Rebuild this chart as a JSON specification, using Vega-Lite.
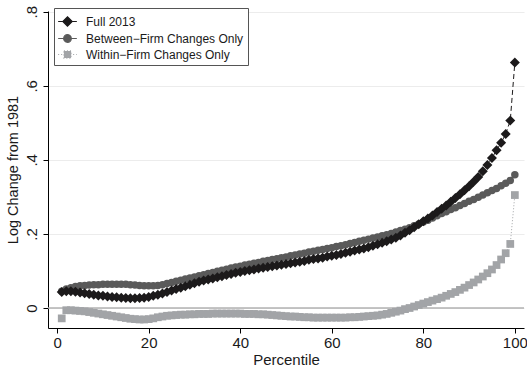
{
  "$schema": "https://vega.github.io/schema/vega-lite/v6.json",
  "width": 476,
  "height": 317,
  "autosize": {"type": "none"},
  "padding": {"left": 48, "top": 11, "right": 3, "bottom": 42},
  "background": "white",
  "config": {
    "font": "Liberation Sans",
    "view": {"stroke": null},
    "axis": {"domainColor": "#000000", "tickColor": "#000000", "tickSize": 5, "labelColor": "#1a1a1a", "titleColor": "#1a1a1a", "titleFontWeight": "normal", "labelFontSize": 15, "titleFontSize": 15, "labelFont": "Liberation Sans", "titleFont": "Liberation Sans"},
    "legend": {"title": null, "orient": "none", "legendX": 6, "legendY": -3, "fillColor": "white", "strokeColor": "#555555", "padding": 4, "symbolSize": 289, "rowPadding": 0, "labelOffset": 9, "labelFontSize": 12, "labelColor": "#1a1a1a", "labelFont": "Liberation Sans", "labelLimit": 300, "symbolOpacity": 1, "symbolStrokeWidth": 1.2}
  },
  "datasets": {
    "zero": [{"y": 0}],
    "series": [
      {"p":1,"s":"Within−Firm Changes Only","v":-0.028},{"p":2,"s":"Within−Firm Changes Only","v":-0.006},{"p":3,"s":"Within−Firm Changes Only","v":-0.006},{"p":4,"s":"Within−Firm Changes Only","v":-0.007},{"p":5,"s":"Within−Firm Changes Only","v":-0.008},{"p":6,"s":"Within−Firm Changes Only","v":-0.009},{"p":7,"s":"Within−Firm Changes Only","v":-0.011},{"p":8,"s":"Within−Firm Changes Only","v":-0.013},{"p":9,"s":"Within−Firm Changes Only","v":-0.015},{"p":10,"s":"Within−Firm Changes Only","v":-0.017},
      {"p":11,"s":"Within−Firm Changes Only","v":-0.019},{"p":12,"s":"Within−Firm Changes Only","v":-0.021},{"p":13,"s":"Within−Firm Changes Only","v":-0.023},{"p":14,"s":"Within−Firm Changes Only","v":-0.025},{"p":15,"s":"Within−Firm Changes Only","v":-0.027},{"p":16,"s":"Within−Firm Changes Only","v":-0.029},{"p":17,"s":"Within−Firm Changes Only","v":-0.030},{"p":18,"s":"Within−Firm Changes Only","v":-0.031},{"p":19,"s":"Within−Firm Changes Only","v":-0.031},{"p":20,"s":"Within−Firm Changes Only","v":-0.030},
      {"p":21,"s":"Within−Firm Changes Only","v":-0.028},{"p":22,"s":"Within−Firm Changes Only","v":-0.025},{"p":23,"s":"Within−Firm Changes Only","v":-0.023},{"p":24,"s":"Within−Firm Changes Only","v":-0.021},{"p":25,"s":"Within−Firm Changes Only","v":-0.020},{"p":26,"s":"Within−Firm Changes Only","v":-0.019},{"p":27,"s":"Within−Firm Changes Only","v":-0.018},{"p":28,"s":"Within−Firm Changes Only","v":-0.018},{"p":29,"s":"Within−Firm Changes Only","v":-0.017},{"p":30,"s":"Within−Firm Changes Only","v":-0.017},
      {"p":31,"s":"Within−Firm Changes Only","v":-0.016},{"p":32,"s":"Within−Firm Changes Only","v":-0.016},{"p":33,"s":"Within−Firm Changes Only","v":-0.016},{"p":34,"s":"Within−Firm Changes Only","v":-0.015},{"p":35,"s":"Within−Firm Changes Only","v":-0.015},{"p":36,"s":"Within−Firm Changes Only","v":-0.015},{"p":37,"s":"Within−Firm Changes Only","v":-0.015},{"p":38,"s":"Within−Firm Changes Only","v":-0.015},{"p":39,"s":"Within−Firm Changes Only","v":-0.015},{"p":40,"s":"Within−Firm Changes Only","v":-0.015},
      {"p":41,"s":"Within−Firm Changes Only","v":-0.016},{"p":42,"s":"Within−Firm Changes Only","v":-0.016},{"p":43,"s":"Within−Firm Changes Only","v":-0.016},{"p":44,"s":"Within−Firm Changes Only","v":-0.017},{"p":45,"s":"Within−Firm Changes Only","v":-0.017},{"p":46,"s":"Within−Firm Changes Only","v":-0.018},{"p":47,"s":"Within−Firm Changes Only","v":-0.019},{"p":48,"s":"Within−Firm Changes Only","v":-0.020},{"p":49,"s":"Within−Firm Changes Only","v":-0.021},{"p":50,"s":"Within−Firm Changes Only","v":-0.022},
      {"p":51,"s":"Within−Firm Changes Only","v":-0.023},{"p":52,"s":"Within−Firm Changes Only","v":-0.023},{"p":53,"s":"Within−Firm Changes Only","v":-0.024},{"p":54,"s":"Within−Firm Changes Only","v":-0.025},{"p":55,"s":"Within−Firm Changes Only","v":-0.025},{"p":56,"s":"Within−Firm Changes Only","v":-0.026},{"p":57,"s":"Within−Firm Changes Only","v":-0.026},{"p":58,"s":"Within−Firm Changes Only","v":-0.026},{"p":59,"s":"Within−Firm Changes Only","v":-0.026},{"p":60,"s":"Within−Firm Changes Only","v":-0.026},
      {"p":61,"s":"Within−Firm Changes Only","v":-0.026},{"p":62,"s":"Within−Firm Changes Only","v":-0.026},{"p":63,"s":"Within−Firm Changes Only","v":-0.026},{"p":64,"s":"Within−Firm Changes Only","v":-0.025},{"p":65,"s":"Within−Firm Changes Only","v":-0.025},{"p":66,"s":"Within−Firm Changes Only","v":-0.024},{"p":67,"s":"Within−Firm Changes Only","v":-0.023},{"p":68,"s":"Within−Firm Changes Only","v":-0.022},{"p":69,"s":"Within−Firm Changes Only","v":-0.021},{"p":70,"s":"Within−Firm Changes Only","v":-0.020},
      {"p":71,"s":"Within−Firm Changes Only","v":-0.018},{"p":72,"s":"Within−Firm Changes Only","v":-0.016},{"p":73,"s":"Within−Firm Changes Only","v":-0.013},{"p":74,"s":"Within−Firm Changes Only","v":-0.010},{"p":75,"s":"Within−Firm Changes Only","v":-0.007},{"p":76,"s":"Within−Firm Changes Only","v":-0.003},{"p":77,"s":"Within−Firm Changes Only","v":0.000},{"p":78,"s":"Within−Firm Changes Only","v":0.004},{"p":79,"s":"Within−Firm Changes Only","v":0.008},{"p":80,"s":"Within−Firm Changes Only","v":0.012},
      {"p":81,"s":"Within−Firm Changes Only","v":0.016},{"p":82,"s":"Within−Firm Changes Only","v":0.020},{"p":83,"s":"Within−Firm Changes Only","v":0.024},{"p":84,"s":"Within−Firm Changes Only","v":0.028},{"p":85,"s":"Within−Firm Changes Only","v":0.033},{"p":86,"s":"Within−Firm Changes Only","v":0.038},{"p":87,"s":"Within−Firm Changes Only","v":0.043},{"p":88,"s":"Within−Firm Changes Only","v":0.049},{"p":89,"s":"Within−Firm Changes Only","v":0.055},{"p":90,"s":"Within−Firm Changes Only","v":0.062},
      {"p":91,"s":"Within−Firm Changes Only","v":0.069},{"p":92,"s":"Within−Firm Changes Only","v":0.077},{"p":93,"s":"Within−Firm Changes Only","v":0.085},{"p":94,"s":"Within−Firm Changes Only","v":0.094},{"p":95,"s":"Within−Firm Changes Only","v":0.104},{"p":96,"s":"Within−Firm Changes Only","v":0.116},{"p":97,"s":"Within−Firm Changes Only","v":0.131},{"p":98,"s":"Within−Firm Changes Only","v":0.148},{"p":99,"s":"Within−Firm Changes Only","v":0.173},{"p":100,"s":"Within−Firm Changes Only","v":0.305},

      {"p":1,"s":"Between−Firm Changes Only","v":0.045},{"p":2,"s":"Between−Firm Changes Only","v":0.051},{"p":3,"s":"Between−Firm Changes Only","v":0.055},{"p":4,"s":"Between−Firm Changes Only","v":0.058},{"p":5,"s":"Between−Firm Changes Only","v":0.060},{"p":6,"s":"Between−Firm Changes Only","v":0.061},{"p":7,"s":"Between−Firm Changes Only","v":0.062},{"p":8,"s":"Between−Firm Changes Only","v":0.063},{"p":9,"s":"Between−Firm Changes Only","v":0.063},{"p":10,"s":"Between−Firm Changes Only","v":0.064},
      {"p":11,"s":"Between−Firm Changes Only","v":0.064},{"p":12,"s":"Between−Firm Changes Only","v":0.064},{"p":13,"s":"Between−Firm Changes Only","v":0.064},{"p":14,"s":"Between−Firm Changes Only","v":0.064},{"p":15,"s":"Between−Firm Changes Only","v":0.064},{"p":16,"s":"Between−Firm Changes Only","v":0.063},{"p":17,"s":"Between−Firm Changes Only","v":0.062},{"p":18,"s":"Between−Firm Changes Only","v":0.061},{"p":19,"s":"Between−Firm Changes Only","v":0.060},{"p":20,"s":"Between−Firm Changes Only","v":0.060},
      {"p":21,"s":"Between−Firm Changes Only","v":0.060},{"p":22,"s":"Between−Firm Changes Only","v":0.061},{"p":23,"s":"Between−Firm Changes Only","v":0.063},{"p":24,"s":"Between−Firm Changes Only","v":0.066},{"p":25,"s":"Between−Firm Changes Only","v":0.069},{"p":26,"s":"Between−Firm Changes Only","v":0.072},{"p":27,"s":"Between−Firm Changes Only","v":0.075},{"p":28,"s":"Between−Firm Changes Only","v":0.078},{"p":29,"s":"Between−Firm Changes Only","v":0.081},{"p":30,"s":"Between−Firm Changes Only","v":0.084},
      {"p":31,"s":"Between−Firm Changes Only","v":0.087},{"p":32,"s":"Between−Firm Changes Only","v":0.090},{"p":33,"s":"Between−Firm Changes Only","v":0.093},{"p":34,"s":"Between−Firm Changes Only","v":0.096},{"p":35,"s":"Between−Firm Changes Only","v":0.099},{"p":36,"s":"Between−Firm Changes Only","v":0.102},{"p":37,"s":"Between−Firm Changes Only","v":0.105},{"p":38,"s":"Between−Firm Changes Only","v":0.108},{"p":39,"s":"Between−Firm Changes Only","v":0.111},{"p":40,"s":"Between−Firm Changes Only","v":0.113},
      {"p":41,"s":"Between−Firm Changes Only","v":0.116},{"p":42,"s":"Between−Firm Changes Only","v":0.118},{"p":43,"s":"Between−Firm Changes Only","v":0.121},{"p":44,"s":"Between−Firm Changes Only","v":0.123},{"p":45,"s":"Between−Firm Changes Only","v":0.126},{"p":46,"s":"Between−Firm Changes Only","v":0.128},{"p":47,"s":"Between−Firm Changes Only","v":0.131},{"p":48,"s":"Between−Firm Changes Only","v":0.133},{"p":49,"s":"Between−Firm Changes Only","v":0.136},{"p":50,"s":"Between−Firm Changes Only","v":0.138},
      {"p":51,"s":"Between−Firm Changes Only","v":0.141},{"p":52,"s":"Between−Firm Changes Only","v":0.143},{"p":53,"s":"Between−Firm Changes Only","v":0.146},{"p":54,"s":"Between−Firm Changes Only","v":0.148},{"p":55,"s":"Between−Firm Changes Only","v":0.151},{"p":56,"s":"Between−Firm Changes Only","v":0.153},{"p":57,"s":"Between−Firm Changes Only","v":0.156},{"p":58,"s":"Between−Firm Changes Only","v":0.158},{"p":59,"s":"Between−Firm Changes Only","v":0.161},{"p":60,"s":"Between−Firm Changes Only","v":0.163},
      {"p":61,"s":"Between−Firm Changes Only","v":0.166},{"p":62,"s":"Between−Firm Changes Only","v":0.168},{"p":63,"s":"Between−Firm Changes Only","v":0.171},{"p":64,"s":"Between−Firm Changes Only","v":0.174},{"p":65,"s":"Between−Firm Changes Only","v":0.177},{"p":66,"s":"Between−Firm Changes Only","v":0.180},{"p":67,"s":"Between−Firm Changes Only","v":0.183},{"p":68,"s":"Between−Firm Changes Only","v":0.186},{"p":69,"s":"Between−Firm Changes Only","v":0.189},{"p":70,"s":"Between−Firm Changes Only","v":0.192},
      {"p":71,"s":"Between−Firm Changes Only","v":0.195},{"p":72,"s":"Between−Firm Changes Only","v":0.198},{"p":73,"s":"Between−Firm Changes Only","v":0.201},{"p":74,"s":"Between−Firm Changes Only","v":0.205},{"p":75,"s":"Between−Firm Changes Only","v":0.209},{"p":76,"s":"Between−Firm Changes Only","v":0.213},{"p":77,"s":"Between−Firm Changes Only","v":0.217},{"p":78,"s":"Between−Firm Changes Only","v":0.222},{"p":79,"s":"Between−Firm Changes Only","v":0.227},{"p":80,"s":"Between−Firm Changes Only","v":0.232},
      {"p":81,"s":"Between−Firm Changes Only","v":0.237},{"p":82,"s":"Between−Firm Changes Only","v":0.243},{"p":83,"s":"Between−Firm Changes Only","v":0.249},{"p":84,"s":"Between−Firm Changes Only","v":0.255},{"p":85,"s":"Between−Firm Changes Only","v":0.260},{"p":86,"s":"Between−Firm Changes Only","v":0.266},{"p":87,"s":"Between−Firm Changes Only","v":0.271},{"p":88,"s":"Between−Firm Changes Only","v":0.277},{"p":89,"s":"Between−Firm Changes Only","v":0.282},{"p":90,"s":"Between−Firm Changes Only","v":0.288},
      {"p":91,"s":"Between−Firm Changes Only","v":0.293},{"p":92,"s":"Between−Firm Changes Only","v":0.299},{"p":93,"s":"Between−Firm Changes Only","v":0.305},{"p":94,"s":"Between−Firm Changes Only","v":0.311},{"p":95,"s":"Between−Firm Changes Only","v":0.317},{"p":96,"s":"Between−Firm Changes Only","v":0.323},{"p":97,"s":"Between−Firm Changes Only","v":0.330},{"p":98,"s":"Between−Firm Changes Only","v":0.337},{"p":99,"s":"Between−Firm Changes Only","v":0.344},{"p":100,"s":"Between−Firm Changes Only","v":0.360},

      {"p":1,"s":"Full 2013","v":0.043},{"p":2,"s":"Full 2013","v":0.045},{"p":3,"s":"Full 2013","v":0.045},{"p":4,"s":"Full 2013","v":0.044},{"p":5,"s":"Full 2013","v":0.042},{"p":6,"s":"Full 2013","v":0.040},{"p":7,"s":"Full 2013","v":0.038},{"p":8,"s":"Full 2013","v":0.036},{"p":9,"s":"Full 2013","v":0.034},{"p":10,"s":"Full 2013","v":0.033},
      {"p":11,"s":"Full 2013","v":0.031},{"p":12,"s":"Full 2013","v":0.030},{"p":13,"s":"Full 2013","v":0.029},{"p":14,"s":"Full 2013","v":0.028},{"p":15,"s":"Full 2013","v":0.027},{"p":16,"s":"Full 2013","v":0.026},{"p":17,"s":"Full 2013","v":0.026},{"p":18,"s":"Full 2013","v":0.027},{"p":19,"s":"Full 2013","v":0.028},{"p":20,"s":"Full 2013","v":0.030},
      {"p":21,"s":"Full 2013","v":0.033},{"p":22,"s":"Full 2013","v":0.036},{"p":23,"s":"Full 2013","v":0.039},{"p":24,"s":"Full 2013","v":0.043},{"p":25,"s":"Full 2013","v":0.047},{"p":26,"s":"Full 2013","v":0.051},{"p":27,"s":"Full 2013","v":0.055},{"p":28,"s":"Full 2013","v":0.059},{"p":29,"s":"Full 2013","v":0.063},{"p":30,"s":"Full 2013","v":0.067},
      {"p":31,"s":"Full 2013","v":0.071},{"p":32,"s":"Full 2013","v":0.074},{"p":33,"s":"Full 2013","v":0.077},{"p":34,"s":"Full 2013","v":0.080},{"p":35,"s":"Full 2013","v":0.083},{"p":36,"s":"Full 2013","v":0.086},{"p":37,"s":"Full 2013","v":0.089},{"p":38,"s":"Full 2013","v":0.092},{"p":39,"s":"Full 2013","v":0.095},{"p":40,"s":"Full 2013","v":0.097},
      {"p":41,"s":"Full 2013","v":0.100},{"p":42,"s":"Full 2013","v":0.102},{"p":43,"s":"Full 2013","v":0.104},{"p":44,"s":"Full 2013","v":0.107},{"p":45,"s":"Full 2013","v":0.109},{"p":46,"s":"Full 2013","v":0.111},{"p":47,"s":"Full 2013","v":0.113},{"p":48,"s":"Full 2013","v":0.115},{"p":49,"s":"Full 2013","v":0.117},{"p":50,"s":"Full 2013","v":0.119},
      {"p":51,"s":"Full 2013","v":0.121},{"p":52,"s":"Full 2013","v":0.123},{"p":53,"s":"Full 2013","v":0.125},{"p":54,"s":"Full 2013","v":0.127},{"p":55,"s":"Full 2013","v":0.130},{"p":56,"s":"Full 2013","v":0.132},{"p":57,"s":"Full 2013","v":0.134},{"p":58,"s":"Full 2013","v":0.136},{"p":59,"s":"Full 2013","v":0.139},{"p":60,"s":"Full 2013","v":0.141},
      {"p":61,"s":"Full 2013","v":0.143},{"p":62,"s":"Full 2013","v":0.146},{"p":63,"s":"Full 2013","v":0.149},{"p":64,"s":"Full 2013","v":0.152},{"p":65,"s":"Full 2013","v":0.155},{"p":66,"s":"Full 2013","v":0.158},{"p":67,"s":"Full 2013","v":0.161},{"p":68,"s":"Full 2013","v":0.164},{"p":69,"s":"Full 2013","v":0.168},{"p":70,"s":"Full 2013","v":0.172},
      {"p":71,"s":"Full 2013","v":0.176},{"p":72,"s":"Full 2013","v":0.180},{"p":73,"s":"Full 2013","v":0.185},{"p":74,"s":"Full 2013","v":0.190},{"p":75,"s":"Full 2013","v":0.196},{"p":76,"s":"Full 2013","v":0.203},{"p":77,"s":"Full 2013","v":0.210},{"p":78,"s":"Full 2013","v":0.218},{"p":79,"s":"Full 2013","v":0.226},{"p":80,"s":"Full 2013","v":0.234},
      {"p":81,"s":"Full 2013","v":0.242},{"p":82,"s":"Full 2013","v":0.250},{"p":83,"s":"Full 2013","v":0.259},{"p":84,"s":"Full 2013","v":0.268},{"p":85,"s":"Full 2013","v":0.277},{"p":86,"s":"Full 2013","v":0.287},{"p":87,"s":"Full 2013","v":0.297},{"p":88,"s":"Full 2013","v":0.307},{"p":89,"s":"Full 2013","v":0.318},{"p":90,"s":"Full 2013","v":0.329},
      {"p":91,"s":"Full 2013","v":0.341},{"p":92,"s":"Full 2013","v":0.354},{"p":93,"s":"Full 2013","v":0.369},{"p":94,"s":"Full 2013","v":0.386},{"p":95,"s":"Full 2013","v":0.405},{"p":96,"s":"Full 2013","v":0.426},{"p":97,"s":"Full 2013","v":0.446},{"p":98,"s":"Full 2013","v":0.470},{"p":99,"s":"Full 2013","v":0.506},{"p":100,"s":"Full 2013","v":0.663}
    ]
  },
  "encoding": {
    "x": {
      "field": "p", "type": "quantitative",
      "scale": {"domain": [-2, 102], "nice": false, "zero": false},
      "axis": {"values": [0, 20, 40, 60, 80, 100], "grid": false, "title": "Percentile", "labelPadding": 2, "titlePadding": 2, "labelFlush": false}
    },
    "y": {
      "field": "v", "type": "quantitative",
      "scale": {"domain": [-0.054, 0.802], "nice": false, "zero": false},
      "axis": {"values": [0, 0.2, 0.4, 0.6, 0.8], "grid": true, "gridColor": "#ececec", "gridWidth": 1.2, "title": "Log Change from 1981", "titleFontSize": 14.5, "labelAngle": 270, "labelAlign": "center", "labelBaseline": "bottom", "labelPadding": 4, "titlePadding": 4, "labelExpr": "datum.value == 0 ? '0' : replace(format(datum.value, '.1f'), '0.', '.')"}
    }
  },
  "layer": [
    {
      "data": {"name": "zero"},
      "mark": {"type": "rule", "color": "#b2b2b2", "strokeWidth": 1.6},
      "encoding": {"x": null, "y": {"field": "y", "type": "quantitative"}}
    },
    {
      "data": {"name": "series"},
      "transform": [{"filter": "datum.s === 'Within−Firm Changes Only'"}],
      "mark": {"type": "line", "color": "#a2a4a7", "strokeWidth": 1, "strokeDash": [1, 2]}
    },
    {
      "data": {"name": "series"},
      "transform": [{"filter": "datum.s === 'Within−Firm Changes Only'"}],
      "mark": {"type": "point", "shape": "square", "filled": true, "color": "#a2a4a7", "opacity": 1, "size": 60, "strokeWidth": 0}
    },
    {
      "data": {"name": "series"},
      "transform": [{"filter": "datum.s === 'Between−Firm Changes Only'"}],
      "mark": {"type": "line", "color": "#5a5a5a", "strokeWidth": 1}
    },
    {
      "data": {"name": "series"},
      "transform": [{"filter": "datum.s === 'Between−Firm Changes Only'"}],
      "mark": {"type": "point", "shape": "circle", "filled": true, "color": "#5a5a5a", "opacity": 1, "size": 56, "strokeWidth": 0}
    },
    {
      "data": {"name": "series"},
      "transform": [{"filter": "datum.s === 'Full 2013'"}],
      "mark": {"type": "line", "color": "#1c1a1b", "strokeWidth": 1, "strokeDash": [5, 3]}
    },
    {
      "data": {"name": "series"},
      "transform": [{"filter": "datum.s === 'Full 2013'"}],
      "mark": {"type": "point", "shape": "diamond", "filled": true, "color": "#1c1a1b", "opacity": 1, "size": 100, "strokeWidth": 0}
    },
    {
      "data": {"name": "series"},
      "mark": {"type": "point", "filled": true, "opacity": 0},
      "encoding": {
        "color": {"field": "s", "type": "nominal", "scale": {"domain": ["Full 2013", "Between−Firm Changes Only", "Within−Firm Changes Only"], "range": ["#1c1a1b", "#5a5a5a", "#a2a4a7"]}},
        "stroke": {"field": "s", "type": "nominal", "scale": {"domain": ["Full 2013", "Between−Firm Changes Only", "Within−Firm Changes Only"], "range": ["#1c1a1b", "#5a5a5a", "#a2a4a7"]}},
        "shape": {"field": "s", "type": "nominal", "scale": {"domain": ["Full 2013", "Between−Firm Changes Only", "Within−Firm Changes Only"], "range": ["M-1.1,0H1.1M-0.55,0L0,-0.55L0.55,0L0,0.55Z", "M-1.1,0H1.1M0.45,0A0.45,0.45,0,1,1,-0.45,0A0.45,0.45,0,1,1,0.45,0Z", "M-1.1,0H1.1M-0.42,-0.42H0.42V0.42H-0.42Z"]}},
        "strokeDash": {"field": "s", "type": "nominal", "scale": {"domain": ["Full 2013", "Between−Firm Changes Only", "Within−Firm Changes Only"], "range": [[10, 0], [10, 0], [1, 2]]}}
      }
    }
  ]
}
